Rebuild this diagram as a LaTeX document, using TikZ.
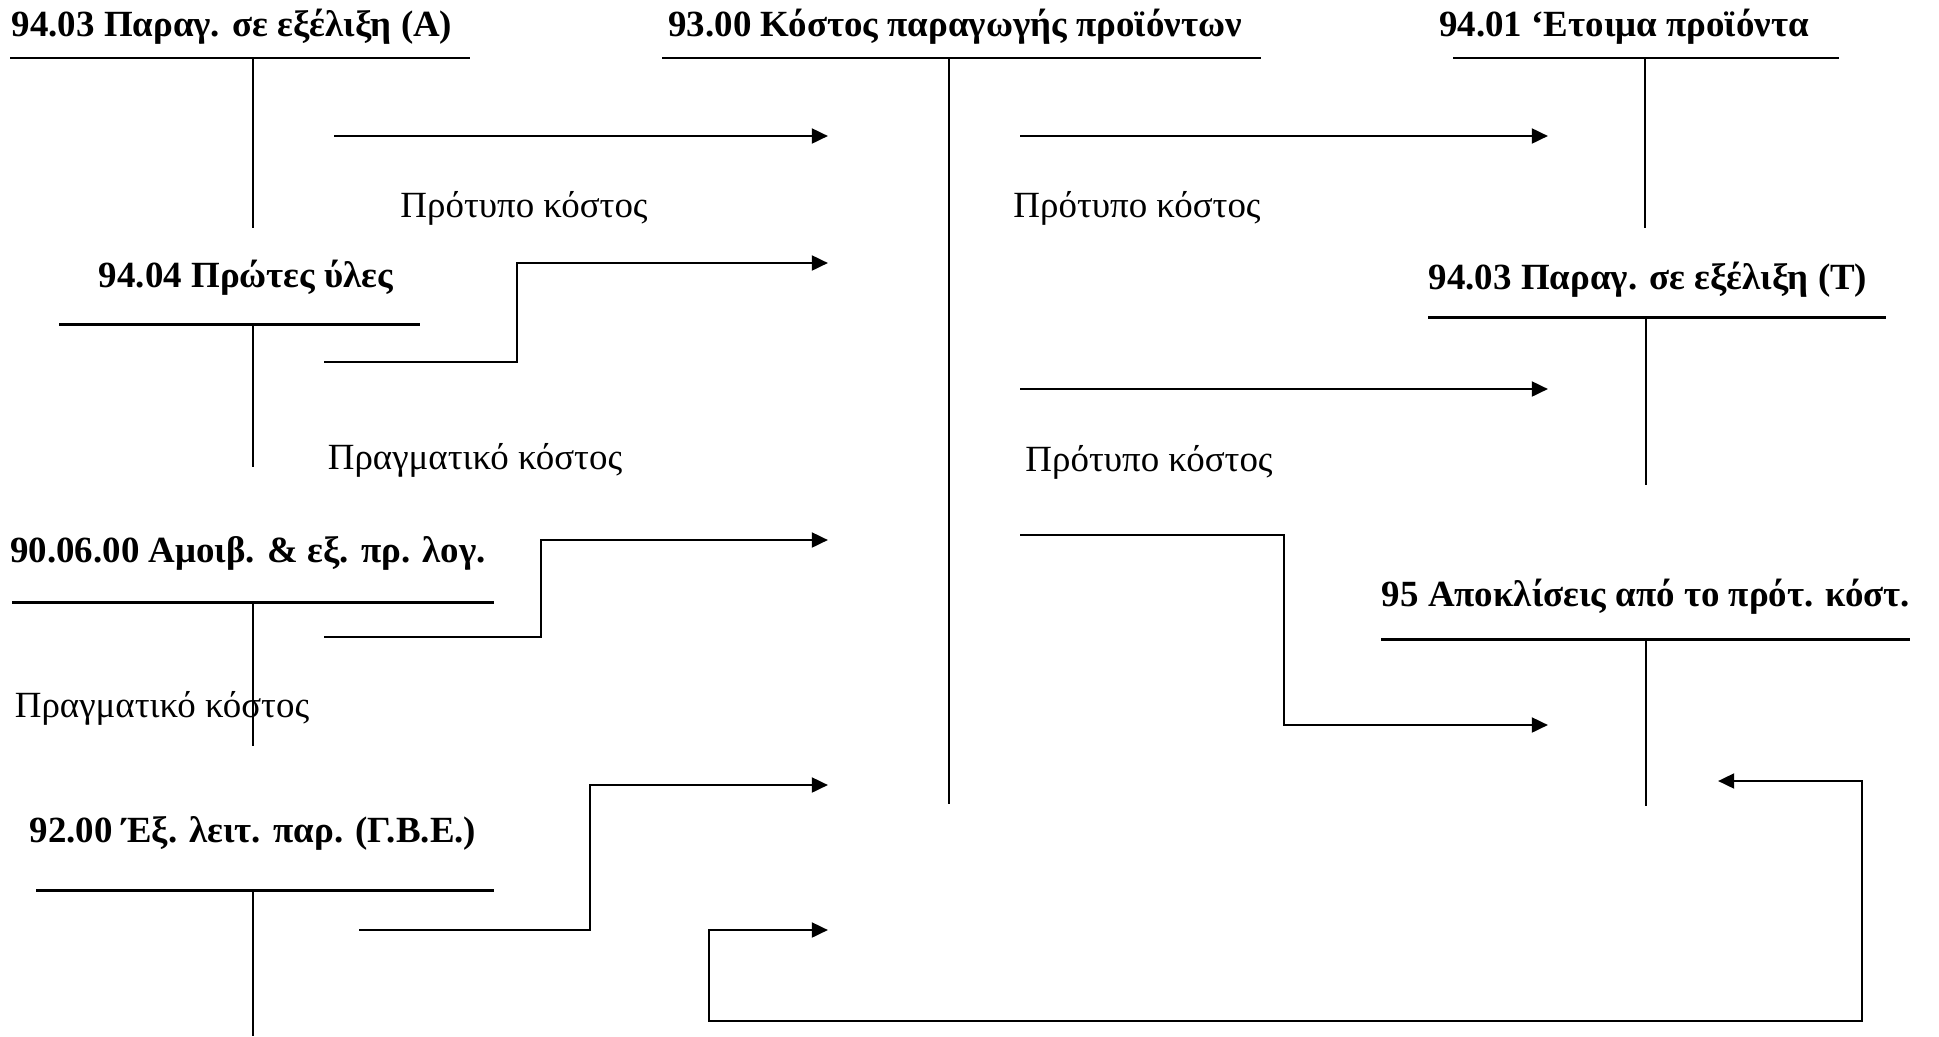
\documentclass[tikz,border=0pt]{standalone}
\usepackage{fontspec}
\setmainfont{Liberation Serif}
\usetikzlibrary{arrows.meta}

\begin{document}
\begin{tikzpicture}[
            x=0.01cm, y=-0.01cm,
            acct/.style={font=\bfseries\fontsize{10.5}{12}\selectfont, inner sep=0pt},
            cost/.style={font=\fontsize{10.5}{12}\selectfont, inner sep=0pt},
            tline/.style={line width=0.85pt},
            tstem/.style={line width=0.6pt},
            flow/.style={line width=0.8pt},
            >={Triangle[length=4.6pt,width=4.2pt]}
        ]
        \useasboundingbox (0,0) rectangle (1939,1036);

        % account titles
        \node[acct] (wipa) at (232,27) {94.03 Παραγ. σε εξέλιξη (Α)};
        \node[acct] (prod) at (955,27) {93.00 Κόστος παραγωγής προϊόντων};
        \node[acct] (fin) at (1624,27) {94.01 ‘Ετοιμα προϊόντα};
        \node[acct] (raw) at (246,278) {94.04 Πρώτες ύλες};
        \node[acct] (wipt) at (1648,280) {94.03 Παραγ. σε εξέλιξη (Τ)};
        \node[acct] (fees) at (248,553) {90.06.00 Αμοιβ. \& εξ. πρ. λογ.};
        \node[acct] (dev) at (1646,597) {95 Αποκλίσεις από το πρότ. κόστ.};
        \node[acct] (ovh) at (253,833) {92.00 Έξ. λειτ. παρ. (Γ.Β.Ε.)};

        % cost labels
        \node[cost] (std1) at (524,208) {Πρότυπο κόστος};
        \node[cost] (std2) at (1137,208) {Πρότυπο κόστος};
        \node[cost] (std3) at (1149,462) {Πρότυπο κόστος};
        \node[cost] (act1) at (475,460) {Πραγματικό κόστος};
        \node[cost] (act2) at (162,708) {Πραγματικό κόστος};

        % T accounts
        \draw[tline] (10,58) -- (470,58);
        \draw[tstem] (253,58) -- (253,228);
        \draw[tline] (662,58) -- (1261,58);
        \draw[tstem] (949,58) -- (949,804);
        \draw[tline] (1453,58) -- (1839,58);
        \draw[tstem] (1645,58) -- (1645,228);
        \draw[tline] (59,324) -- (420,324);
        \draw[tstem] (253,324) -- (253,467);
        \draw[tline] (1428,317) -- (1886,317);
        \draw[tstem] (1646,317) -- (1646,485);
        \draw[tline] (12,602) -- (494,602);
        \draw[tstem] (253,602) -- (253,746);
        \draw[tline] (1381,639) -- (1910,639);
        \draw[tstem] (1646,639) -- (1646,806);
        \draw[tline] (36,890) -- (494,890);
        \draw[tstem] (253,890) -- (253,1036);

        % ends of the transfers
        \coordinate (wipa-out) at (334,136);
        \coordinate (prod-in1) at (828,136);
        \coordinate (prod-out1) at (1020,136);
        \coordinate (fin-in) at (1548,136);
        \coordinate (raw-out) at (324,362);
        \coordinate (prod-in2) at (828,263);
        \coordinate (fees-out) at (324,637);
        \coordinate (prod-in3) at (828,540);
        \coordinate (ovh-out) at (359,930);
        \coordinate (prod-in4) at (828,785);
        \coordinate (prod-out2) at (1020,389);
        \coordinate (wipt-in) at (1548,389);
        \coordinate (prod-out3) at (1020,535);
        \coordinate (dev-in1) at (1548,725);
        \coordinate (dev-in2) at (1718,781);
        \coordinate (prod-in5) at (828,930);

        \draw[flow, ->] (wipa-out) -- (prod-in1);
        \draw[flow, ->] (prod-out1) -- (fin-in);
        \draw[flow, ->] (raw-out) -| (517,263) -- (prod-in2);
        \draw[flow, ->] (fees-out) -| (541,540) -- (prod-in3);
        \draw[flow, ->] (ovh-out) -| (590,785) -- (prod-in4);
        \draw[flow, ->] (prod-out2) -- (wipt-in);
        \draw[flow, ->] (prod-out3) -| (1284,725) -- (dev-in1);
        \draw[flow, <->] (dev-in2) -| (1862,1021) -| (709,930) -- (prod-in5);
    \end{tikzpicture}
\end{document}
